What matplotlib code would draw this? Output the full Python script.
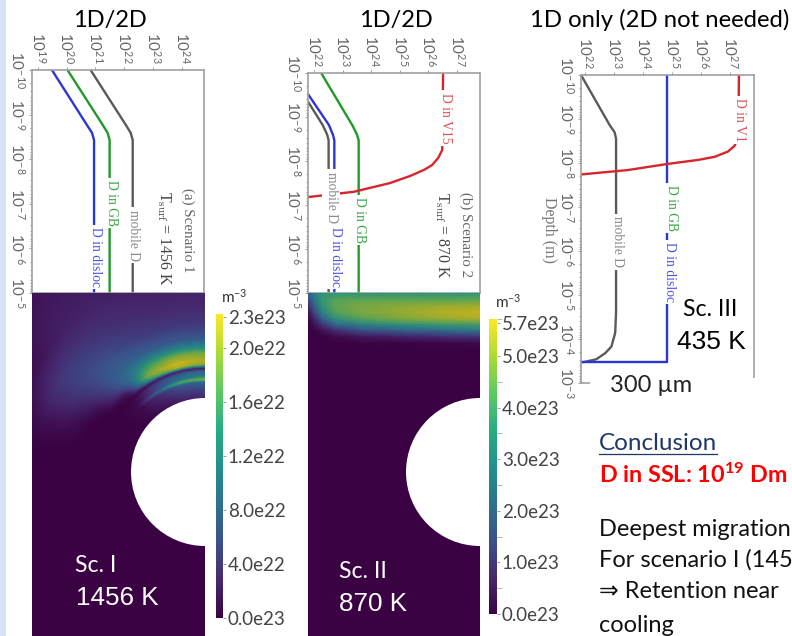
import numpy as np
import matplotlib
matplotlib.use("Agg")
import matplotlib.pyplot as plt
from matplotlib.colors import LinearSegmentedColormap, Normalize
from matplotlib.cm import ScalarMappable
from matplotlib.patches import Circle, Rectangle

W, H = 792, 636
plt.rcParams["font.family"] = ["Lato", "DejaVu Sans"]
plt.rcParams["mathtext.default"] = "regular"

BLUE = "#2b36d6"
GREEN = "#1f9a2a"
GRAY = "#5a5a5a"
RED = "#d8242c"
AXIS_GRAY = "#a0a0a0"

# Scenario I, depth and concentration as exponents of ten
sc1_blue_depth = [-10, -8.77, -8.59, -8.43, -5]
sc1_blue_conc = [19.49, 20.70, 20.88, 20.95, 20.95]
sc1_green_conc = [20.03, 21.25, 21.42, 21.49, 21.49]
sc1_gray_conc = [20.83, 22.05, 22.22, 22.29, 22.29]

# Scenario II
sc2_blue_depth = [-9.52, -8.82, -8.6, -8.47, -5]
sc2_blue_conc = [21.79, 22.52, 22.66, 22.71, 22.71]
sc2_gray_depth = [-9.35, -8.82, -8.6, -8.47, -5]
sc2_gray_conc = [21.79, 22.30, 22.46, 22.51, 22.51]
sc2_green_depth = [-10, -8.8, -8.6, -8.47, -5]
sc2_green_conc = [22.25, 23.35, 23.50, 23.56, 23.56]
sc2_red_depth = [-10, -8.25, -8.07, -7.91, -7.8, -7.66, -7.5, -7.3, -7.18]
sc2_red_conc = [26.51, 26.48, 26.34, 26.13, 25.85, 25.36, 24.66, 23.39, 21.79]

# Scenario III
sc3_gray_depth = [-10, -8.85, -8.7, -8.55, -4.62, -4.14, -3.83, -3.68, -3.54, -3.48, -3.47]
sc3_gray_conc = [21.86, 22.86, 23.02, 23.07, 23.07, 23.04, 22.91, 22.70, 22.39, 21.99, 21.86]
sc3_blue_depth = [-10, -3.48, -3.48]
sc3_blue_conc = [24.83, 24.83, 21.86]
sc3_red_depth = [-10, -8.6, -8.39, -8.26, -8.14, -8.07, -7.98, -7.84, -7.74]
sc3_red_conc = [27.31, 27.29, 27.16, 26.93, 26.47, 25.90, 24.86, 23.48, 21.87]

# Field I, fraction of the colour range, rows are radius around the hole,
# columns are angle away from the hole's top
field1_radius = [74, 82, 90, 93, 96, 101, 104, 108, 112, 118, 125, 135, 150, 170, 200, 260]
field1_angle = [0, 15, 30, 45, 60, 75, 90]
field1_frac = [
    [.12, .10, .05, .02, 0, 0, 0],
    [.20, .18, .10, .03, 0, 0, 0],
    [.32, .28, .16, .03, 0, 0, 0],
    [.72, .62, .34, .05, 0, 0, 0],
    [.42, .38, .22, .03, 0, 0, 0],
    [.33, .30, .20, .02, 0, 0, 0],
    [.10, .10, .08, .01, 0, 0, 0],
    [.72, .82, .55, .03, 0, 0, 0],
    [.80, .90, .72, .08, 0, 0, 0],
    [.70, .74, .60, .22, 0, 0, 0],
    [.46, .48, .46, .30, .01, 0, 0],
    [.26, .27, .29, .33, .08, 0, 0],
    [.17, .17, .19, .27, .17, 0, 0],
    [.12, .12, .14, .19, .20, 0, 0],
    [.09, .09, .10, .12, .03, 0, 0],
    [.05, .05, .05, .05, .01, 0, 0],
]

# Field II, fraction of the colour range on a plain grid near the surface
field2_x = [0, 6, 14, 27, 52, 92, 132, 172]
field2_depth = [0, 7, 13, 20, 26, 32, 38, 44, 50, 57]
field2_frac = [
    [.30, .42, .50, .50, .50, .50, .50, .50],
    [.22, .38, .52, .60, .62, .62, .62, .62],
    [.12, .30, .50, .62, .68, .72, .76, .78],
    [.05, .20, .42, .58, .68, .75, .82, .86],
    [.02, .10, .30, .48, .58, .68, .75, .80],
    [0, .05, .15, .32, .42, .48, .52, .55],
    [0, 0, .05, .12, .22, .28, .33, .38],
    [0, 0, 0, .03, .07, .10, .13, .15],
    [0, 0, 0, 0, .01, .01, .02, .03],
    [0, 0, 0, 0, 0, 0, 0, 0],
]

bar1_max = 2.25
bar1_ticks = [0.0, 0.4, 0.8, 1.2, 1.6, 2.0, 2.23]
bar1_labels = ["0.0e23", "4.0e22", "8.0e22", "1.2e22", "1.6e22", "2.0e22", "2.3e23"]
bar2_max = 5.72
bar2_ticks = [0.0, 1.0, 2.0, 3.0, 4.0, 5.0, 5.64]
bar2_labels = ["0.0e23", "1.0e23", "2.0e23", "3.0e23", "4.0e23", "5.0e23", "5.7e23"]
bar2_minor = [0.5, 1.5, 2.5, 3.5, 4.5, 5.72]

bar_colors = ["#3a0242", "#46296f", "#3b528b", "#2c728e", "#21918c",
              "#27ad81", "#5ec962", "#aadc32", "#fde725"]
field_colors = ["#3a0242", "#46296f", "#3b528b", "#2c728e", "#2a9478",
                "#62a550", "#93aa34", "#c8b41a", "#e2cb12"]
bar_cmap = LinearSegmentedColormap.from_list("bar", bar_colors)
field_cmap = LinearSegmentedColormap.from_list("field", field_colors)


def px_axes(left, top, right, bottom, **kwargs):
    return fig.add_axes([left / W, 1 - bottom / H, (right - left) / W, (bottom - top) / H], **kwargs)


def px_text(x, y, s, **kwargs):
    kwargs.setdefault("ha", "center")
    kwargs.setdefault("va", "center")
    return fig.text(x / W, 1 - y / H, s, **kwargs)


def line_label(x, y, s, color, size=9.8):
    px_text(x, y, s, color=color, rotation=-90, family="Liberation Serif", fontsize=size,
            bbox=dict(facecolor="white", edgecolor="none", pad=1.8), zorder=5)


def depth_axes(left, top, right, bottom, xlim, ylim, xexps, yexps):
    ax = px_axes(left, top, right, bottom)
    ax.set_xscale("log")
    ax.set_yscale("log")
    ax.set_xlim(10.0 ** xlim[0], 10.0 ** xlim[1])
    ax.set_ylim(10.0 ** ylim[1], 10.0 ** ylim[0])
    ax.xaxis.tick_top()
    ax.set_xticks([10.0 ** e for e in xexps], [rf"$10^{{{e}}}$" for e in xexps])
    ax.set_yticks([10.0 ** e for e in yexps], [rf"$10^{{{e}}}$" for e in yexps])
    ax.tick_params(which="both", color="#777777", width=0.5, labelcolor="#666666")
    ax.tick_params(which="major", length=2.5, pad=2, labelsize=11)
    ax.tick_params(which="minor", length=1.5)
    for tick in ax.get_xticklabels():
        tick.set_rotation(-90)
        tick.set_math_fontfamily("cm")
        tick.set_ha("center")
    for tick in ax.get_yticklabels():
        tick.set_rotation(-90)
        tick.set_math_fontfamily("cm")
        tick.set_va("center")
    for spine in ax.spines.values():
        spine.set_color(AXIS_GRAY)
        spine.set_linewidth(1.2)
    return ax


def draw(ax, depth, conc, color):
    ax.plot(10.0 ** np.array(conc), 10.0 ** np.array(depth), color=color, lw=1.7,
            solid_joinstyle="round")


def colorbar(left, top, right, bottom, vmax, ticks, labels, minor=None):
    cax = px_axes(left, top, right, bottom)
    sm = ScalarMappable(norm=Normalize(0, vmax), cmap=bar_cmap)
    cb = fig.colorbar(sm, cax=cax)
    cb.outline.set_visible(False)
    cb.set_ticks(ticks, labels=labels)
    cb.ax.tick_params(which="major", length=2.5, width=0.5, pad=1, color="#777777",
                      labelsize=13.5, labelcolor="#444444")
    if minor:
        cb.ax.set_yticks(minor, minor=True)
        cb.ax.tick_params(which="minor", length=3.5, width=0.5, color="#999999")
    return cb


def blur_rows(values, width):
    # soften the table only for drawing, the way a resampled screenshot looks
    kernel = np.hanning(width + 2)[1:-1]
    kernel = kernel / kernel.sum()
    padded = np.pad(values, ((0, 0), (width // 2, width // 2)), mode="edge")
    return np.array([np.convolve(row, kernel, mode="valid") for row in padded])


fig = plt.figure(figsize=(W / 100, H / 100), dpi=100)
fig.patches.append(Rectangle((0, 0), 6 / W, 1, transform=fig.transFigure, facecolor="#dae3f3", edgecolor="none"))

# 1D profiles
ax1 = depth_axes(32, 70, 204, 293, (18.8, 24.76), (-10, -5), range(19, 25), range(-10, -4))
draw(ax1, sc1_blue_depth, sc1_blue_conc, BLUE)
draw(ax1, sc1_blue_depth, sc1_green_conc, GREEN)
draw(ax1, sc1_blue_depth, sc1_gray_conc, GRAY)

ax2 = depth_axes(308, 73, 480, 293, (21.79, 27.8), (-10, -5), range(22, 28), range(-10, -4))
draw(ax2, sc2_blue_depth, sc2_blue_conc, BLUE)
draw(ax2, sc2_gray_depth, sc2_gray_conc, GRAY)
draw(ax2, sc2_green_depth, sc2_green_conc, GREEN)
draw(ax2, sc2_red_depth, sc2_red_conc, RED)

ax3 = depth_axes(581, 75, 754, 383, (21.86, 27.83), (-10, -3), range(22, 28), range(-10, -2))
draw(ax3, sc3_gray_depth, sc3_gray_conc, GRAY)
draw(ax3, sc3_blue_depth, sc3_blue_conc, BLUE)
draw(ax3, sc3_red_depth, sc3_red_conc, RED)
# the bottom of this panel is hidden behind the slide's text
fig.patches.append(Rectangle((590 / W, 1 - 400 / H), 170 / W, 22 / H, transform=fig.transFigure,
                             facecolor="white", edgecolor="none", zorder=1))

# 2D fields
field_ax1 = px_axes(32, 293, 205, 636)
field_ax1.set_xlim(-173, 0)
field_ax1.set_ylim(-164, 179)
field_ax1.set_facecolor(field_cmap(0.0))
fine_angle = np.arange(0, 91, 1.0)
fine_radius = np.arange(74, 261, 1.0)
table = np.array(field1_frac)
by_angle = np.array([np.interp(fine_angle, field1_angle, row) for row in table])
fine = np.array([np.interp(fine_radius, field1_radius, col) for col in by_angle.T]).T
# sharp arcs near the hole, wide soft plume further out
outer_weight = np.clip((fine_radius - 112) / 15, 0, 1)[:, None]
fine = (1 - outer_weight) * blur_rows(fine, 9) + outer_weight * blur_rows(fine, 35)
rr, tt = np.meshgrid(fine_radius, np.radians(fine_angle), indexing="ij")
field_ax1.pcolormesh(-rr * np.sin(tt), rr * np.cos(tt), fine, cmap=field_cmap,
                     vmin=0, vmax=1, shading="gouraud")
field_ax1.add_patch(Circle((0, 0), 74, facecolor="white", edgecolor="none", zorder=3))
field_ax1.set_xticks([])
field_ax1.set_yticks([])
for spine in field_ax1.spines.values():
    spine.set_visible(False)

field_ax2 = px_axes(308, 293, 480, 636)
field_ax2.set_xlim(0, 172)
field_ax2.set_ylim(343, 0)
field_ax2.set_facecolor(field_cmap(0.0))
field_ax2.pcolormesh(field2_x, field2_depth, np.array(field2_frac), cmap=field_cmap,
                     vmin=0, vmax=1, shading="gouraud")
field_ax2.add_patch(Circle((172, 179), 74, facecolor="white", edgecolor="none", zorder=3))
field_ax2.set_xticks([])
field_ax2.set_yticks([])
for spine in field_ax2.spines.values():
    spine.set_visible(False)

colorbar(216, 314, 223, 618, bar1_max, bar1_ticks, bar1_labels)
colorbar(489, 319, 497, 614, bar2_max, bar2_ticks, bar2_labels, bar2_minor)

# line labels
line_label(112, 203, "D in GB", "#3aa648")
line_label(133, 235, "mobile D", "#8a8a8a")
line_label(95, 257, "D in disloc", "#4a55e6")
line_label(188, 230, "(a) Scenario 1", "#666666", 10.8)
px_text(164, 238, r"$T_{\rm surf}$ = 1456 K", color="#444444", rotation=-90, family="Liberation Serif",
        fontsize=11.4, math_fontfamily="cm")

line_label(446, 118, "D in V15", "#e0505a")
line_label(331, 197, "mobile D", "#8a8a8a")
line_label(336, 257, "D in disloc", "#4a55e6")
line_label(360, 220, "D in GB", "#3aa648")
line_label(466, 235, "(b) Scenario 2", "#666666", 10.8)
px_text(442, 235, r"$T_{\rm surf}$ = 870 K", color="#444444", rotation=-90, family="Liberation Serif",
        fontsize=11.4, math_fontfamily="cm")

line_label(740, 120, "D in V1", "#e0505a")
line_label(617, 242, "mobile D", "#8a8a8a")
line_label(671, 208, "D in GB", "#3aa648")
line_label(670, 272, "D in disloc", "#4a55e6")
px_text(549, 230, "Depth (m)", color="#777777", rotation=-90, family="Liberation Serif", fontsize=11.5)

# slide text
px_text(110, 20, "1D/2D", fontsize=17, color="black")
px_text(396, 20, "1D/2D", fontsize=17, color="black")
px_text(660, 20, "1D only (2D not needed)", fontsize=17.2, color="black")

px_text(234, 297, "m$^{-3}$", fontsize=11, color="#333333")
px_text(508, 302, "m$^{-3}$", fontsize=11, color="#333333")

px_text(96, 566, "Sc. I", fontsize=16.7, color="white")
px_text(117, 598, "1456 K", fontsize=18.7, color="white", family="Liberation Sans")
px_text(363, 572, "Sc. II", fontsize=16.7, color="white")
px_text(373, 604, "870 K", fontsize=18.7, color="white", family="Liberation Sans")
px_text(710, 310, "Sc. III", fontsize=16.7, color="black", zorder=6)
px_text(711, 342, "435 K", fontsize=19, color="black", family="Liberation Sans", zorder=6)
px_text(651, 385, "300 µm", fontsize=17, color="#222222", zorder=6)

# the slide runs off the right edge, so these lines stop where the picture stops
px_text(599, 444, "Conclusion", ha="left", fontsize=17.5, color="#1f3864")
fig.add_artist(plt.Line2D([599 / W, 717 / W], [1 - 454 / H, 1 - 454 / H], color="#1f3864", lw=0.9))
px_text(599, 475, "D in SSL: 10$^{19}$ Dm", ha="left", fontsize=16.8, color="#ff0000", fontweight="bold")
px_text(599, 529, "Deepest migration", ha="left", fontsize=17, color="#111111")
px_text(599, 560, "For scenario I (145", ha="left", fontsize=17, color="#111111")
px_text(599, 592, "⇒ Retention near", ha="left", fontsize=17, color="#111111")
px_text(599, 625, "cooling", ha="left", fontsize=17, color="#111111")

fig.savefig("out.png", dpi=100)
